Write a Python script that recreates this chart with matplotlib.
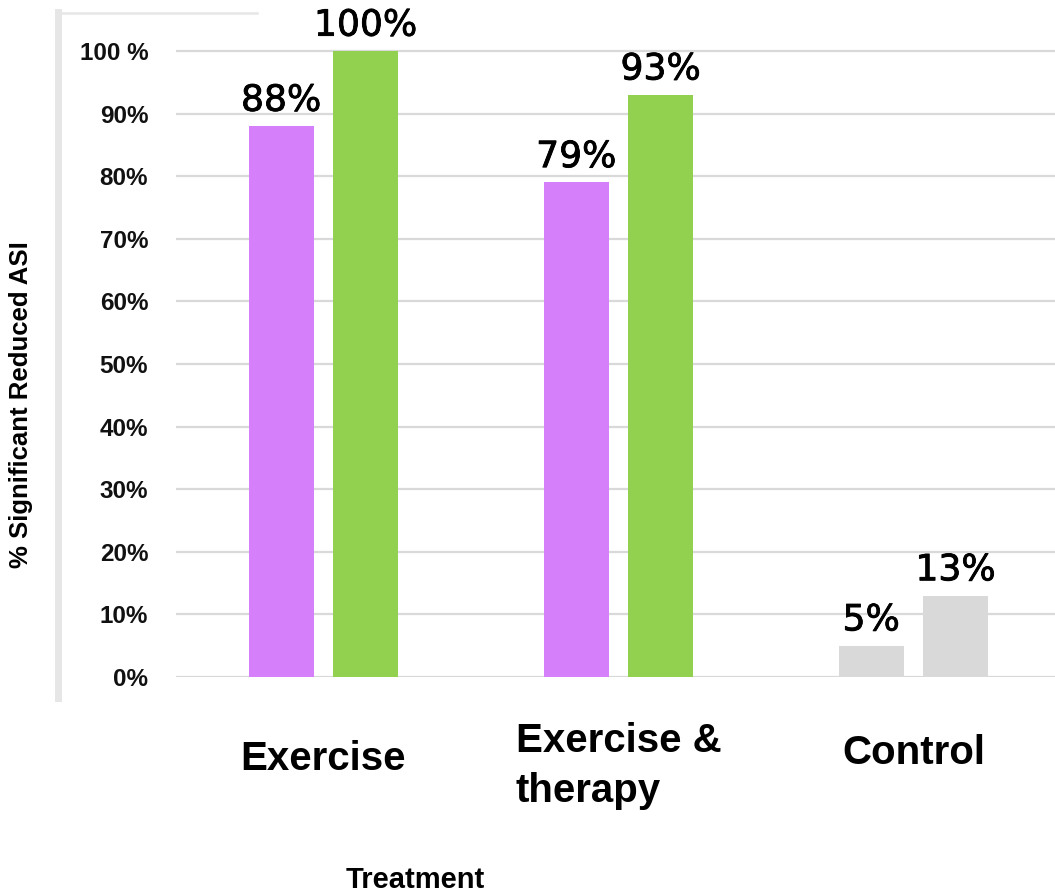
"""Share of participants with significantly reduced ASI, by treatment group."""

import matplotlib.pyplot as plt
import matplotlib.patheffects as pe
from matplotlib.lines import Line2D
import numpy as np

groups = ["Exercise", "Exercise &\ntherapy", "Control"]
first_values = [88, 79, 5]
second_values = [100, 93, 13]
first_colors = ["#d580fa", "#d580fa", "#d9d9d9"]
second_colors = ["#92d050", "#92d050", "#d9d9d9"]
y_ticks = [0, 10, 20, 30, 40, 50, 60, 70, 80, 90, 100]
y_tick_labels = ["0%", "10%", "20%", "30%", "40%", "50%", "60%",
                 "70%", "80%", "90%", "100 %"]

W, H = 1055, 896
fig = plt.figure(figsize=(W / 100, H / 100), dpi=100)
# axes box in pixels: left 176, right 1055, y=0 at 677, 6.26 px per percent
px_per_unit = 6.26
top_val = 105
ax_bottom = H - 677
ax_height = top_val * px_per_unit
ax = fig.add_axes([176 / W, ax_bottom / H, (W - 176) / W, ax_height / H])

x = np.arange(len(groups))
width = 0.22
offset = 0.143
bars1 = ax.bar(x - offset, first_values, width, color=first_colors, zorder=3)
bars2 = ax.bar(x + offset, second_values, width, color=second_colors, zorder=3)

thick = [pe.withStroke(linewidth=0.6, foreground="black")]
for bars, vals in ((bars1, first_values), (bars2, second_values)):
    for b, v in zip(bars, vals):
        ax.annotate(f"{v}%", (b.get_x() + b.get_width() / 2, v),
                    xytext=(0, 6), textcoords="offset points",
                    ha="center", va="bottom", fontsize=26,
                    family="DejaVu Sans", color="black", path_effects=thick)

ax.set_xlim(-0.5, 2.48)
ax.set_ylim(0, top_val)
ax.set_yticks(y_ticks)
ax.set_yticklabels(y_tick_labels, fontsize=17.5, fontweight="bold",
                   family="Liberation Sans", color="#111111")
ax.tick_params(axis="y", length=0, pad=20)
ax.yaxis.grid(True, color="#d9d9d9", linewidth=1.6, zorder=0)
ax.set_axisbelow(True)
for s in ax.spines.values():
    s.set_visible(False)

ax.set_xticks(x)
ax.set_xticklabels(groups, fontsize=29, fontweight="bold",
                   family="Liberation Sans", multialignment="left",
                   linespacing=1.4, va="top")
ax.tick_params(axis="x", length=0, pad=0)
for lbl, dy in zip(ax.get_xticklabels(), [63, 45, 57]):
    lbl.set_y(-dy / ax_height)

fig.text(21 / W, 1 - 405 / H, "% Significant Reduced ASI", rotation=90,
         ha="center", va="center", fontsize=18.5, fontweight="bold",
         family="Liberation Sans")
fig.text(415 / W, 1 - 880 / H, "Treatment", ha="center", va="center",
         fontsize=21, fontweight="bold", family="Liberation Sans")

# light frame pieces at the top-left of the slide
fig.add_artist(Line2D([58.5 / W, 58.5 / W], [1 - 698 / H, 1 - 12 / H],
                      color="#e6e6e6", linewidth=5, transform=fig.transFigure))
fig.add_artist(Line2D([56 / W, 257 / W], [1 - 13 / H, 1 - 13 / H],
                      color="#e6e6e6", linewidth=1.8, transform=fig.transFigure))

fig.savefig("out.png", dpi=100)
